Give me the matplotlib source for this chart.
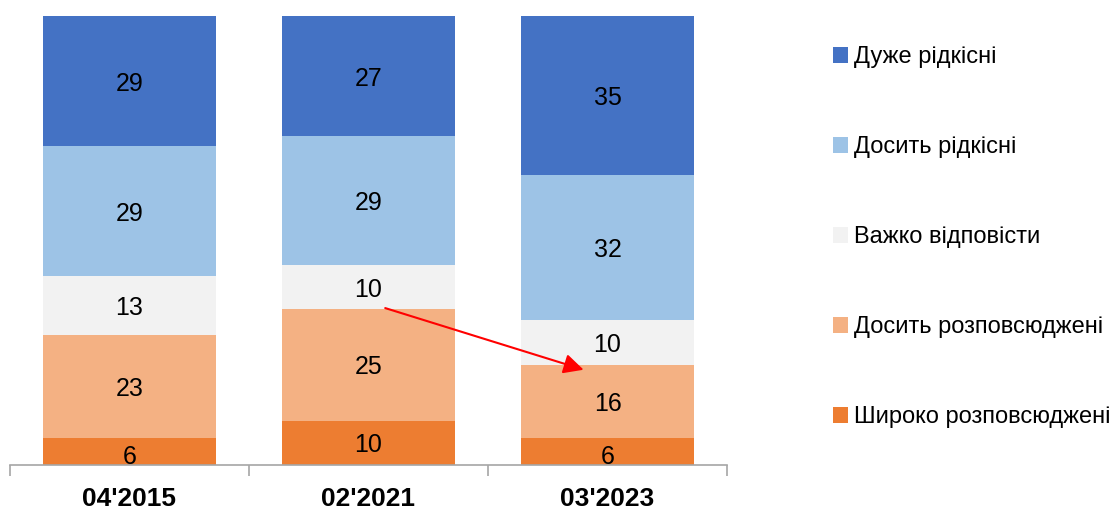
import numpy as np
import matplotlib.pyplot as plt
from matplotlib.patches import Patch

plt.rcParams['font.family'] = ['Liberation Sans', 'DejaVu Sans']

periods = ["04'2015", "02'2021", "03'2023"]
shyroko = [6, 10, 6]
dosyt_rozp = [23, 25, 16]
vazhko = [13, 10, 10]
dosyt_ridk = [29, 29, 32]
duzhe_ridk = [29, 27, 35]

series = [shyroko, dosyt_rozp, vazhko, dosyt_ridk, duzhe_ridk]
names = ['Широко розповсюджені', 'Досить розповсюджені', 'Важко відповісти',
         'Досить рідкісні', 'Дуже рідкісні']
colors = ['#ED7D31', '#F4B183', '#F2F2F2', '#9DC3E6', '#4472C4']

vals = np.array(series, dtype=float)
totals = vals.sum(axis=0)
pct = vals / totals * 100

fig = plt.figure(figsize=(11.19, 5.14), dpi=100)
ax = fig.add_axes([0.0089, 0.0953, 0.6408, 0.8735])

x = np.arange(len(periods))
bottom = np.zeros(len(periods))
for i in range(len(series)):
    ax.bar(x, pct[i], 0.72, bottom=bottom, color=colors[i], linewidth=0)
    for j in range(len(periods)):
        yc = bottom[j] + pct[i][j] / 2
        if pct[i][j] < 7:
            yc -= 0.6
        ax.text(x[j], yc, str(series[i][j]), ha='center', va='center_baseline',
                fontsize=18, color='black')
    bottom += pct[i]

# arrow from 2021 "10" to 2023 "16"
cum = np.cumsum(pct, axis=0)
ax.annotate('', xy=(x[2] - 0.1, cum[1][2] - 1), xytext=(x[1] + 0.07, cum[1][1] + 0.3),
            arrowprops=dict(arrowstyle='-|>', color='red', lw=1.5,
                            mutation_scale=30, shrinkA=0, shrinkB=0))

ax.set_xlim(-0.5, 2.5)
ax.set_ylim(0, 100)
for s in ['top', 'right', 'left']:
    ax.spines[s].set_visible(False)
ax.spines['bottom'].set_color('#A6A6A6')
ax.spines['bottom'].set_linewidth(1.2)
ax.set_yticks([])
ax.set_xticks(x)
ax.set_xticklabels(periods, fontsize=19, fontweight='bold')
ax.tick_params(axis='x', which='major', length=0, pad=16)
ax.set_xticks([-0.5, 0.5, 1.5, 2.5], minor=True)
ax.tick_params(axis='x', which='minor', length=8, width=1.2, color='#A6A6A6')

handles = [Patch(facecolor=colors[i], edgecolor='none') for i in range(4, -1, -1)]
labels = [names[i] for i in range(4, -1, -1)]
fig.legend(handles, labels, loc='upper left', bbox_to_anchor=(0.736, 0.928),
           frameon=False, fontsize=17, handlelength=0.65, handleheight=0.65,
           handletextpad=0.25, labelspacing=2.88, borderaxespad=0)

fig.savefig('out.png', dpi=100)
